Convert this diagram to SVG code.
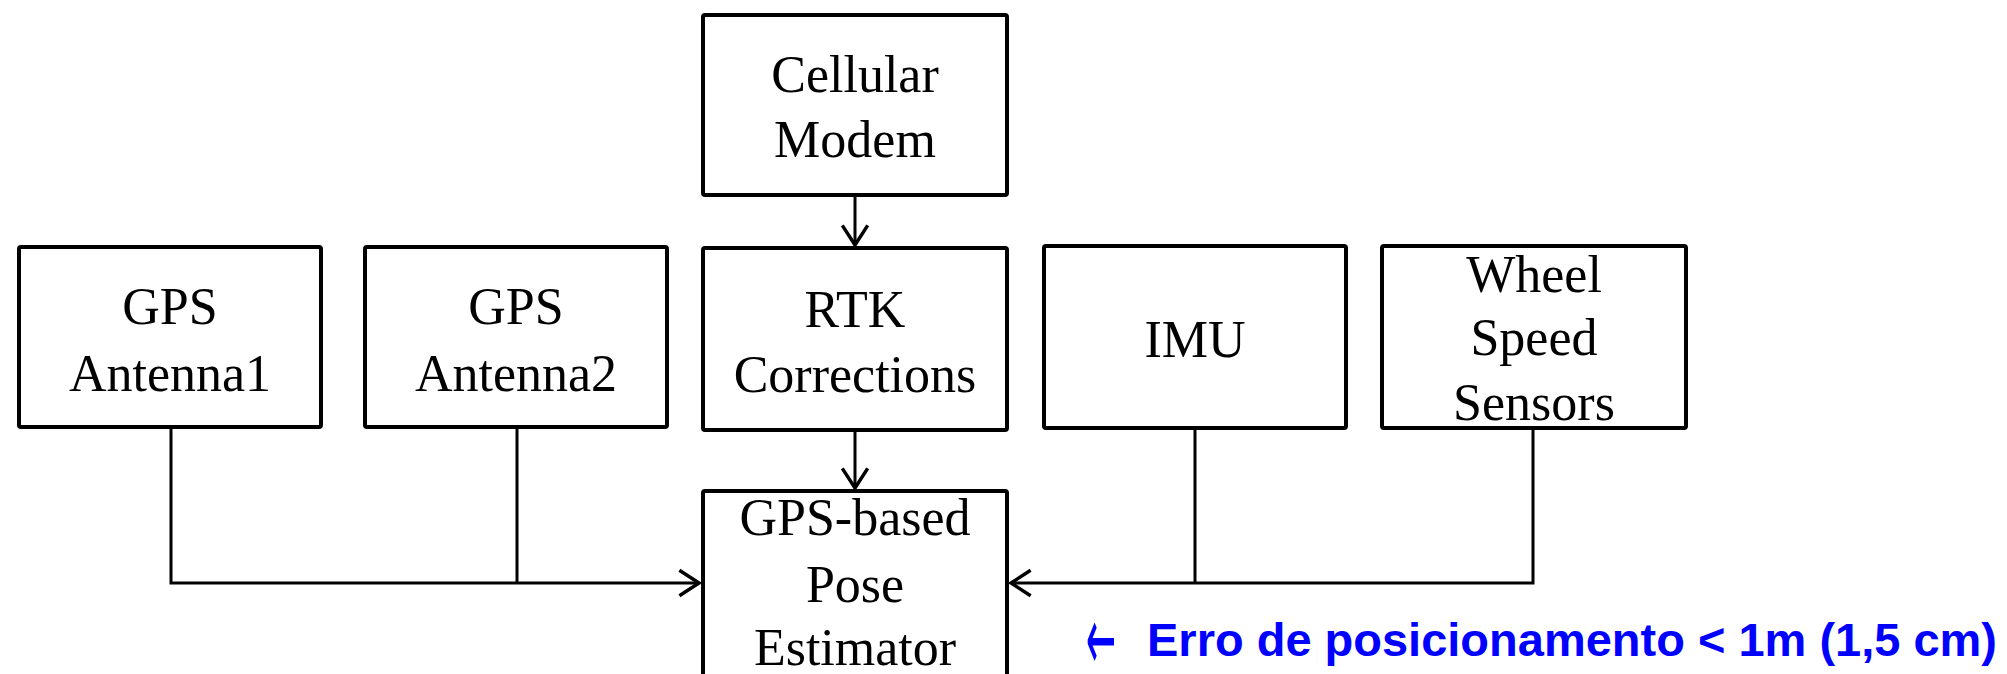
<svg xmlns="http://www.w3.org/2000/svg" width="2007" height="674" viewBox="0 0 2007 674">
  <defs>
    <style>
      .box { fill: #ffffff; stroke: #000000; stroke-width: 4; }
      .lbl { font-family: "Liberation Serif", "Times New Roman", serif; font-size: 52px; fill: #000000; text-anchor: middle; }
      .conn { fill: none; stroke: #000000; stroke-width: 3; }
      .note { font-family: "Liberation Sans", Arial, sans-serif; font-weight: bold; font-size: 46px; fill: #0000ff; }
      .notearrow { font-family: "DejaVu Sans", sans-serif; font-size: 90px; fill: #0000ff; }
    </style>
    <marker id="arr" markerUnits="userSpaceOnUse" markerWidth="30" markerHeight="30" viewBox="-20 -13 22 26" refX="0" refY="0" orient="auto">
      <path d="M -17 -11 L 0 0 L -17 11" fill="none" stroke="#000000" stroke-width="3"/>
    </marker>
  </defs>
  <rect width="2007" height="674" fill="#ffffff"/>

  <g id="connectors">
    <path class="conn" d="M 855 197 L 855 245" marker-end="url(#arr)"/>
    <path class="conn" d="M 855 432 L 855 488" marker-end="url(#arr)"/>
    <path class="conn" d="M 171 429 V 583 H 699" marker-end="url(#arr)"/>
    <path class="conn" d="M 517 429 V 583"/>
    <path class="conn" d="M 1533 430 V 583 H 1011" marker-end="url(#arr)"/>
    <path class="conn" d="M 1195 430 V 583"/>
  </g>

  <g id="cellular-modem">
    <rect class="box" x="703" y="15" width="304" height="180" rx="2"/>
    <text class="lbl" x="855" y="92">Cellular</text>
    <text class="lbl" x="855" y="157">Modem</text>
  </g>

  <g id="gps-antenna1">
    <rect class="box" x="19" y="247" width="302" height="180" rx="2"/>
    <text class="lbl" x="170" y="324">GPS</text>
    <text class="lbl" x="170" y="391">Antenna1</text>
  </g>

  <g id="gps-antenna2">
    <rect class="box" x="365" y="247" width="302" height="180" rx="2"/>
    <text class="lbl" x="516" y="324">GPS</text>
    <text class="lbl" x="516" y="391">Antenna2</text>
  </g>

  <g id="rtk-corrections">
    <rect class="box" x="703" y="248" width="304" height="182" rx="2"/>
    <text class="lbl" x="855" y="327">RTK</text>
    <text class="lbl" x="855" y="392">Corrections</text>
  </g>

  <g id="imu">
    <rect class="box" x="1044" y="246" width="302" height="182" rx="2"/>
    <text class="lbl" x="1195" y="357">IMU</text>
  </g>

  <g id="wheel-speed-sensors">
    <rect class="box" x="1382" y="246" width="304" height="182" rx="2"/>
    <text class="lbl" x="1534" y="292">Wheel</text>
    <text class="lbl" x="1534" y="355">Speed</text>
    <text class="lbl" x="1534" y="420">Sensors</text>
  </g>

  <g id="pose-estimator">
    <rect class="box" x="703" y="491" width="304" height="260" rx="2"/>
    <text class="lbl" x="855" y="535">GPS-based</text>
    <text class="lbl" x="855" y="602">Pose</text>
    <text class="lbl" x="855" y="665">Estimator</text>
  </g>

  <g id="note">
    <text class="notearrow" transform="translate(1086,670) scale(0.4,1)" x="0" y="0">←</text>
    <text class="note" x="1147" y="656" textLength="850" lengthAdjust="spacingAndGlyphs">Erro de posicionamento &lt; 1m (1,5 cm)</text>
  </g>
</svg>
